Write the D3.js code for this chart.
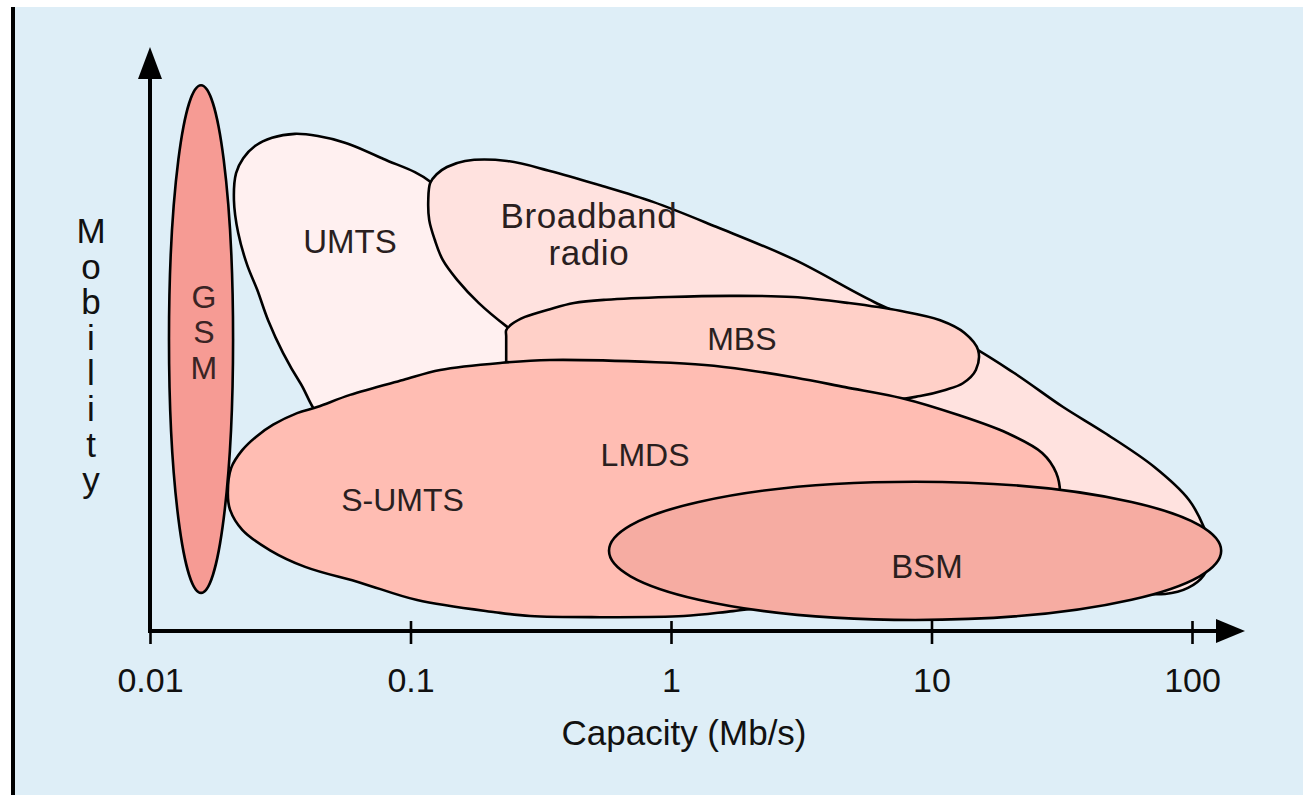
<!DOCTYPE html>
<html>
<head>
<meta charset="utf-8">
<script src="https://cdn.jsdelivr.net/npm/d3@7/dist/d3.min.js"></script>
<style>
  html, body { margin: 0; padding: 0; background: #ffffff; }
  svg { display: block; }
  text { font-family: "Liberation Sans", Arial, sans-serif; }
</style>
</head>
<body>
<svg id="chart" width="1303" height="795"></svg>
<script>
// ---------------- data ----------------
const capTicks = [0.01, 0.1, 1, 10, 100];
const capTickLabels = ["0.01", "0.1", "1", "10", "100"];
const xTitle = "Capacity (Mb/s)";
const yTitle = "Mobility";

// region outlines: capacity (Mb/s) and mobility (0-10 arbitrary units)
const umtsCap = [0.0377, 0.0324, 0.0284, 0.0258, 0.0236, 0.0218, 0.0210, 0.0214, 0.0228, 0.0253, 0.0294, 0.0360, 0.0441, 0.0560, 0.0784, 0.121, 0.185, 0.263, 0.221, 0.0491];
const umtsMob = [4.49, 5.03, 5.62, 6.17, 6.62, 7.20, 7.79, 8.28, 8.55, 8.77, 8.92, 8.99, 8.95, 8.83, 8.54, 8.10, 6.89, 5.35, 3.82, 3.73];

const bbCap = [0.119, 0.126, 0.138, 0.162, 0.235, 0.343, 0.525, 0.853, 1.49, 2.99, 6.02, 12.9, 20.7, 32.0, 46.3, 71.5, 97.4, 111, 119, 111, 96.5, 78.8, 44.4, 7.57, 0.831, 0.314, 0.235, 0.183, 0.151, 0.133, 0.124, 0.118, 0.117];
const bbMob = [8.10, 8.26, 8.39, 8.50, 8.50, 8.32, 8.07, 7.76, 7.31, 6.71, 5.95, 5.26, 4.67, 4.05, 3.58, 2.97, 2.37, 1.88, 1.43, 1.01, 0.78, 0.67, 0.74, 1.28, 3.27, 5.08, 5.50, 5.93, 6.35, 6.71, 7.07, 7.43, 7.79];

const mbsCap = [0.233, 0.233, 0.245, 0.275, 0.343, 0.424, 0.563, 0.982, 1.68, 2.94, 4.82, 7.57, 10.8, 13.4, 15.1, 14.8, 13.2, 11.3, 9.04, 6.93, 3.13, 0.831, 0.233, 0.233];
const mbsMob = [5.33, 5.44, 5.55, 5.68, 5.82, 5.93, 5.99, 6.04, 6.06, 6.04, 5.93, 5.79, 5.62, 5.39, 5.08, 4.72, 4.48, 4.36, 4.25, 4.18, 4.36, 4.63, 4.68, 4.79];

const lmdsCap = [0.0199, 0.0205, 0.0226, 0.0255, 0.0297, 0.0367, 0.0438, 0.0586, 0.0936, 0.130, 0.225, 0.343, 0.876, 1.35, 1.96, 3.02, 4.66, 7.71, 12.6, 19.5, 26.6, 30.1, 31.1, 28.5, 18.3, 7.57, 2.62, 1.73, 1.12, 0.534, 0.288, 0.211, 0.106, 0.0646, 0.0394, 0.0289, 0.0226, 0.0203];
const lmdsMob = [2.50, 2.95, 3.27, 3.51, 3.73, 3.94, 4.05, 4.27, 4.54, 4.72, 4.85, 4.90, 4.86, 4.81, 4.72, 4.58, 4.41, 4.21, 3.91, 3.58, 3.22, 2.86, 2.46, 1.83, 1.10, 0.56, 0.45, 0.36, 0.27, 0.25, 0.27, 0.34, 0.56, 0.87, 1.16, 1.46, 1.83, 2.19];

// elliptical regions: [centre capacity, centre mobility, half-width (decades), half-height (mobility)]
const gsmEllipse = [0.0157, 5.28, 0.123, 4.59];
const bsmEllipse = [8.65, 1.45, 1.175, 1.25];

// labels
const labelText = ["UMTS", "Broadband", "radio", "MBS", "LMDS", "S-UMTS", "BSM"];
const labelCap  = [0.0586, 0.484, 0.484, 1.87, 0.795, 0.0932, 9.61];
const labelMob  = [6.84, 7.29, 6.62, 5.08, 2.98, 2.17, 0.96];
const gsmLetters = ["G", "S", "M"];
const gsmLetterCap = 0.0161;
const gsmLetterMob = [5.84, 5.21, 4.56];

// ---------------- drawing ----------------
const W = 1303, H = 795;
const svg = d3.select("#chart");

// frame
svg.append("rect").attr("x", 15).attr("y", 7).attr("width", W - 15).attr("height", H - 7).attr("fill", "#DEEEF7");
svg.append("rect").attr("x", 11).attr("y", 7).attr("width", 4).attr("height", H - 7).attr("fill", "#000");

const x = d3.scaleLog().domain([0.01, 100]).range([150, 1192]);
const y = d3.scaleLinear().domain([0, 10]).range([631, 78]);

const line = d3.line()
  .x(d => x(d[0]))
  .y(d => y(d[1]))
  .curve(d3.curveCatmullRomClosed.alpha(0.5));

const zip = (a, b) => a.map((v, i) => [v, b[i]]);

const strokeW = 2.6;
function drawPath(caps, mobs, fill) {
  svg.append("path")
    .attr("d", line(zip(caps, mobs)))
    .attr("fill", fill)
    .attr("stroke", "#000")
    .attr("stroke-width", strokeW)
    .attr("stroke-linejoin", "round");
}
function drawEllipse(e, fill) {
  const cx = x(e[0]);
  const cy = y(e[1]);
  const rx = x(e[0] * Math.pow(10, e[2])) - cx;
  const ry = y(e[1] - e[3]) - cy;
  svg.append("ellipse")
    .attr("cx", cx).attr("cy", cy).attr("rx", rx).attr("ry", ry)
    .attr("fill", fill)
    .attr("stroke", "#000")
    .attr("stroke-width", strokeW);
}

drawPath(umtsCap, umtsMob, "#FFF0F0");
drawPath(bbCap, bbMob, "#FFE2DF");
drawPath(mbsCap, mbsMob, "#FFD0C8");
drawPath(lmdsCap, lmdsMob, "#FFBDB3");
drawEllipse(bsmEllipse, "#F6ACA2");
drawEllipse(gsmEllipse, "#F69B94");

// region labels
const labelSizes = [33, 35, 35, 32, 32, 32, 33];
svg.append("g").selectAll("text")
  .data(labelText)
  .join("text")
  .attr("x", (d, i) => x(labelCap[i]))
  .attr("y", (d, i) => y(labelMob[i]))
  .attr("text-anchor", "middle")
  .attr("font-size", (d, i) => labelSizes[i])
  .attr("letter-spacing", (d, i) => (i === 1 || i === 2) ? 0.6 : 0)
  .attr("fill", "#2a1f1f")
  .text(d => d);

svg.append("g").selectAll("text")
  .data(gsmLetters)
  .join("text")
  .attr("x", x(gsmLetterCap))
  .attr("y", (d, i) => y(gsmLetterMob[i]))
  .attr("text-anchor", "middle")
  .attr("font-size", 32)
  .attr("fill", "#3a2424")
  .text(d => d);

// axes
const axisY = y(0);
const axis = d3.axisBottom(x)
  .tickValues(capTicks)
  .tickFormat((d, i) => capTickLabels[i])
  .tickSize(13);
const gx = svg.append("g").attr("transform", `translate(0,${axisY})`).call(axis);
gx.select(".domain").remove();
gx.selectAll(".tick line").attr("y1", -10).attr("y2", 13).attr("stroke", "#000").attr("stroke-width", 2.6);
gx.selectAll(".tick text")
  .attr("y", 61).attr("dy", 0)
  .attr("font-size", 34)
  .attr("font-family", "Liberation Sans, Arial, sans-serif")
  .attr("fill", "#111");

// axis lines with arrows
svg.append("line").attr("x1", x(0.01) - 2).attr("x2", 1218).attr("y1", axisY).attr("y2", axisY)
  .attr("stroke", "#000").attr("stroke-width", 4);
svg.append("path").attr("d", `M1216,${axisY - 12} L1245,${axisY} L1216,${axisY + 12} Z`).attr("fill", "#000");
svg.append("line").attr("x1", x(0.01)).attr("x2", x(0.01)).attr("y1", axisY + 2).attr("y2", y(10))
  .attr("stroke", "#000").attr("stroke-width", 4);
svg.append("path").attr("d", `M${x(0.01) - 12},${y(10) + 1} L${x(0.01)},${y(10) - 31} L${x(0.01) + 12},${y(10) + 1} Z`).attr("fill", "#000");

// axis titles
svg.append("text")
  .attr("x", x(1) + 13).attr("y", axisY + 114)
  .attr("text-anchor", "middle")
  .attr("font-size", 35)
  .attr("fill", "#111")
  .text(xTitle);

const mob = svg.append("text")
  .attr("text-anchor", "middle")
  .attr("font-size", 35)
  .attr("fill", "#111");
yTitle.split("").forEach((ch, i) => {
  mob.append("tspan")
    .attr("x", 91)
    .attr("y", 243 + i * 35.6)
    .text(ch);
});
</script>
</body>
</html>
